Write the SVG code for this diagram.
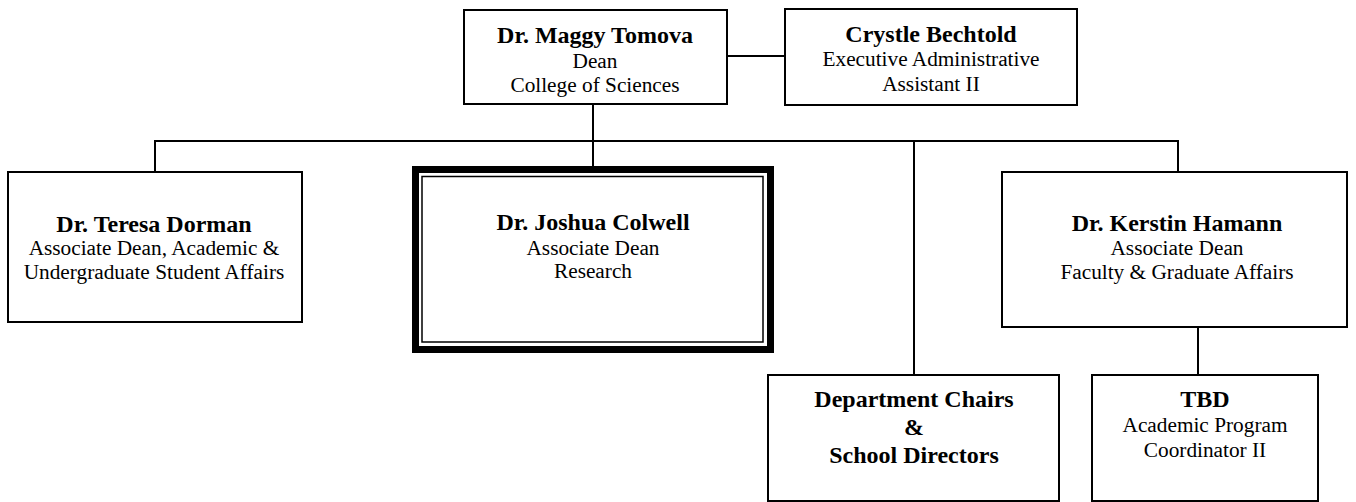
<svg xmlns="http://www.w3.org/2000/svg" width="1356" height="502" viewBox="0 0 1356 502">
  <style>
    .box { fill: #ffffff; stroke: #000000; stroke-width: 2; }
    .line { fill: none; stroke: #000000; stroke-width: 2; }
    .name { font-family: "Liberation Serif", "Times New Roman", serif; font-weight: bold; font-size: 24px; fill: #000000; text-anchor: middle; }
    .title { font-family: "Liberation Serif", "Times New Roman", serif; font-size: 21.3px; fill: #000000; text-anchor: middle; }
  </style>
  <rect width="1356" height="502" fill="#ffffff"/>

  <!-- reporting lines -->
  <g id="connectors">
    <line class="line" x1="727" y1="56" x2="785" y2="56"/>
    <line class="line" x1="593" y1="104" x2="593" y2="166"/>
    <line class="line" x1="154" y1="141" x2="1179" y2="141"/>
    <line class="line" x1="155" y1="140" x2="155" y2="172"/>
    <line class="line" x1="1178" y1="140" x2="1178" y2="172"/>
    <line class="line" x1="914" y1="141" x2="914" y2="375"/>
    <line class="line" x1="1198" y1="327" x2="1198" y2="375"/>
  </g>

  <g id="dean">
    <rect class="box" x="464" y="10" width="263" height="94"/>
    <text class="name" x="595" y="43">Dr. Maggy Tomova</text>
    <text class="title" x="595" y="68">Dean</text>
    <text class="title" x="595" y="92">College of Sciences</text>
  </g>

  <g id="assistant">
    <rect class="box" x="785" y="9" width="292" height="96"/>
    <text class="name" x="931" y="42">Crystle Bechtold</text>
    <text class="title" x="931" y="66">Executive Administrative</text>
    <text class="title" x="931" y="91">Assistant II</text>
  </g>

  <g id="dorman">
    <rect class="box" x="8" y="172" width="294" height="150"/>
    <text class="name" x="154" y="232">Dr. Teresa Dorman</text>
    <text class="title" x="154" y="255">Associate Dean, Academic &amp;</text>
    <text class="title" x="154" y="279">Undergraduate Student Affairs</text>
  </g>

  <g id="colwell">
    <rect x="415.5" y="169.5" width="355" height="180" fill="#ffffff" stroke="#000000" stroke-width="7"/>
    <rect x="422" y="176.5" width="341" height="165.5" fill="none" stroke="#000000" stroke-width="1.5"/>
    <text class="name" x="593" y="230">Dr. Joshua Colwell</text>
    <text class="title" x="593" y="255">Associate Dean</text>
    <text class="title" x="593" y="278">Research</text>
  </g>

  <g id="hamann">
    <rect class="box" x="1002" y="172" width="345" height="155"/>
    <text class="name" x="1177" y="231">Dr. Kerstin Hamann</text>
    <text class="title" x="1177" y="255">Associate Dean</text>
    <text class="title" x="1177" y="279">Faculty &amp; Graduate Affairs</text>
  </g>

  <g id="chairs">
    <rect class="box" x="768" y="375" width="291" height="126"/>
    <text class="name" x="914" y="407">Department Chairs</text>
    <text class="name" x="914" y="435">&amp;</text>
    <text class="name" x="914" y="463">School Directors</text>
  </g>

  <g id="coordinator">
    <rect class="box" x="1092" y="375" width="226" height="126"/>
    <text class="name" x="1205" y="407">TBD</text>
    <text class="title" x="1205" y="432">Academic Program</text>
    <text class="title" x="1205" y="457">Coordinator II</text>
  </g>
</svg>
